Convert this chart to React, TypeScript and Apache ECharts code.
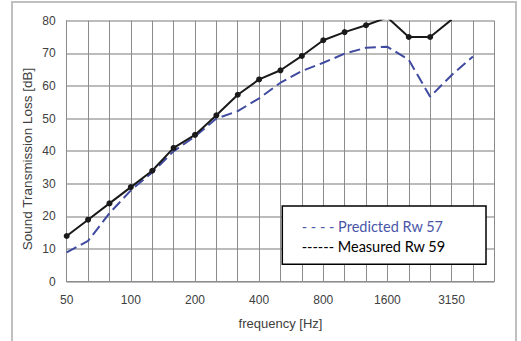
import React, { useEffect, useRef } from "react";
import * as echarts from "echarts";

const categories = ["50", "63", "80", "100", "125", "160", "200", "250", "315", "400", "500", "630", "800", "1000", "1250", "1600", "2000", "2500", "3150", "4000", "5000"];
const shownLabels = ["50", "100", "200", "400", "800", "1600", "3150"];
const measured = [14, 19, 24, 29, 34, 41, 45, 51, 57.3, 62, 64.8, 69.2, 74, 76.5, 78.6, 81, 75, 75, 80.3, null, null];
const predicted = [9, 12.5, 21, 28, 33.5, 40, 44.5, 50, 52.3, 56.2, 61, 64.6, 67.1, 69.9, 71.7, 72, 68, 56.7, 63.3, 69, null];
const legendLines = ["- - - - Predicted Rw 57", "------ Measured Rw 59"];
const xTitle = "frequency [Hz]";
const yTitle = "Sound Transmission Loss [dB]";

export default function App() {
  const ref = useRef<HTMLDivElement>(null);
  useEffect(() => {
    if (!ref.current) return;
    const chart = echarts.init(ref.current, null, { renderer: "svg" });
    chart.setOption({
      animation: false,
      backgroundColor: "#ffffff",
      grid: { left: 66.7, right: 26.7, top: 20.7, bottom: 59.3, containLabel: false },
      xAxis: {
        type: "category",
        data: categories,
        boundaryGap: false,
        axisLine: { lineStyle: { color: "#8c8c8c", width: 1 } },
        axisTick: { show: false },
        axisLabel: {
          interval: 0,
          formatter: (v: string) => (shownLabels.includes(v) ? v : ""),
          color: "#404040",
          fontSize: 12,
          margin: 12,
          fontFamily: "Liberation Sans, Arial",
        },
        splitLine: { show: true, interval: 0, lineStyle: { color: "#8c8c8c", width: 1 } },
      },
      yAxis: {
        type: "value",
        min: 0,
        max: 80,
        interval: 10,
        axisLine: { show: true, lineStyle: { color: "#8c8c8c", width: 1 } },
        axisTick: { show: false },
        axisLabel: { color: "#404040", fontSize: 12, margin: 11, fontFamily: "Liberation Sans, Arial" },
        splitLine: { show: true, lineStyle: { color: "#a6a6a6", width: 1.5 } },
      },
      series: [
        {
          name: "Predicted Rw 57",
          type: "line",
          data: predicted,
          symbol: "none",
          clip: true,
          lineStyle: { color: "#3f4aa0", width: 2, type: [11, 5] },
          z: 3,
        },
        {
          name: "Measured Rw 59",
          type: "line",
          data: measured,
          symbol: "circle",
          symbolSize: 6,
          clip: true,
          itemStyle: { color: "#1a1a1a" },
          lineStyle: { color: "#1a1a1a", width: 2 },
          z: 4,
        },
      ],
      graphic: [
        {
          type: "rect",
          shape: { x: 12, y: 2, width: 504, height: 360 },
          style: { fill: "none", stroke: "#bfbfbf", lineWidth: 2 },
          z: 0,
          silent: true,
        },
        {
          type: "text",
          x: 280.5,
          y: 323,
          style: { text: xTitle, fill: "#404040", font: "13px 'Liberation Sans', Arial", align: "center", verticalAlign: "middle" },
          z: 100,
        },
        {
          type: "text",
          x: 27,
          y: 159,
          rotation: Math.PI / 2,
          style: { text: yTitle, fill: "#404040", font: "13.5px 'Liberation Sans', Arial", align: "center", verticalAlign: "middle" },
          z: 100,
        },
        {
          type: "rect",
          shape: { x: 282.3, y: 206, width: 203.7, height: 58.3 },
          style: { fill: "#ffffff", stroke: "#000000", lineWidth: 1.5 },
          z: 100,
        },
        {
          type: "text",
          x: 301.7,
          y: 226,
          style: { text: legendLines[0], fill: "#4a55a8", font: "14.5px Lato", verticalAlign: "middle" },
          z: 101,
        },
        {
          type: "text",
          x: 301.7,
          y: 246,
          style: { text: legendLines[1], fill: "#000000", font: "14.5px Lato", verticalAlign: "middle" },
          z: 101,
        },
      ],
    });
    return () => chart.dispose();
  }, []);
  return <div ref={ref} style={{ position: "fixed", left: 0, top: 0, width: 521, height: 341 }} />;
}
